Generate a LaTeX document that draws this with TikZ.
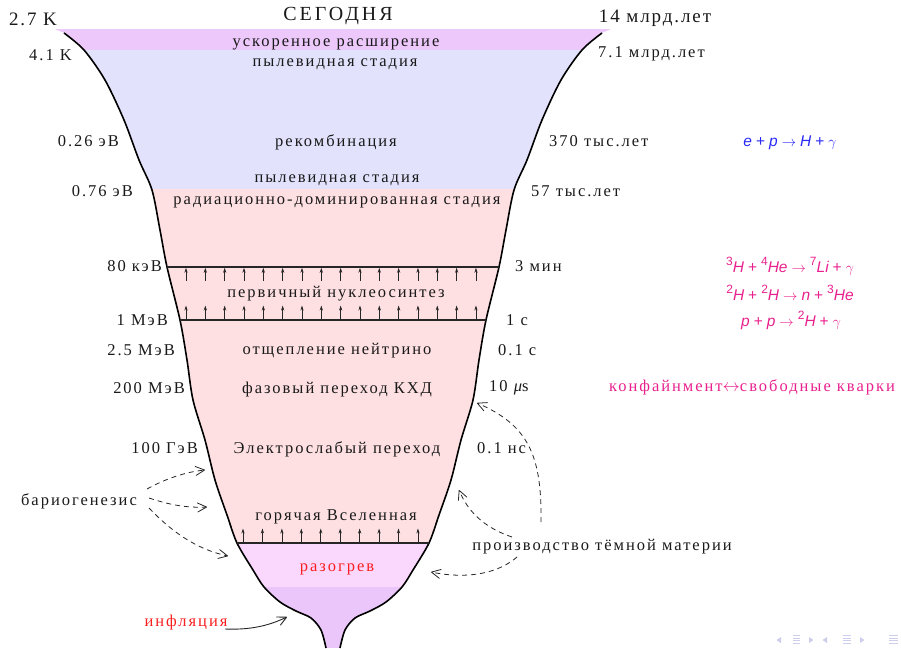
\documentclass[tikz,border=0pt]{standalone}
\usepackage{fontspec}
\setmainfont{Liberation Serif}
\newfontfamily\lblfont[LetterSpace=12]{Liberation Serif}
\newfontfamily\bigfont[LetterSpace=10]{Liberation Serif}
\newfontfamily\todayfont[LetterSpace=15]{Liberation Serif}
\newfontfamily\eqfont{Liberation Sans}
\usetikzlibrary{arrows.meta}

\definecolor{cTop}{RGB}{237,200,251}
\definecolor{cBlue}{RGB}{226,226,253}
\definecolor{cPink}{RGB}{254,224,226}
\definecolor{cReheat}{RGB}{250,216,254}
\definecolor{cBottom}{RGB}{234,198,250}
\definecolor{cBlueTxt}{RGB}{40,40,250}
\definecolor{cMag}{RGB}{232,32,142}
\definecolor{cRed}{RGB}{250,30,30}
\definecolor{navc}{RGB}{205,205,236}

\newcommand\op[1]{\kern4pt{\upshape#1}\kern4pt}
\newcommand\sps[1]{\raisebox{0.45em}{\fontsize{12}{12}\selectfont\upshape #1}}

\tikzset{
  lbl/.style={font=\lblfont\fontsize{16.5}{18}\selectfont, inner sep=0pt, text=black!90},
  biglbl/.style={font=\bigfont\fontsize{19}{21}\selectfont, inner sep=0pt, text=black!90},
  eqlbl/.style={font=\eqfont\itshape\fontsize{15.5}{17}\selectfont, inner sep=0pt},
  outline/.style={line width=1.6pt, black},
  level/.style={line width=1.1pt, black!85},
  uparr/.style={line width=0.7pt, black!85, -{Stealth[length=5pt,width=3.2pt]}},
  dasharr/.style={line width=0.8pt, black!85, dash pattern=on 5pt off 4pt, -{Straight Barb[length=9pt,width=9pt,round]}},
  solarr/.style={line width=0.9pt, black!85, -{Straight Barb[length=9pt,width=9pt,round]}},
}

\begin{document}
\begin{tikzpicture}[x=1pt,y=-1pt]
\useasboundingbox (0,0) rectangle (901,648);

% funnel fill
\begin{scope}
\clip (55,29) -- plot[smooth] coordinates {(64,33) (84,50) (105,80) (124,120) (139,160) (152,190) (160,230) (167,267) (180,320) (187,360) (193,400) (205,440) (215,480) (227,515) (237,543) (253,570) (264,587) (280,602) (296,611) (311,618) (321,630) (326,648)}
  -- plot[smooth] coordinates {(340,648) (345,630) (355,618) (370,611) (386,602) (402,587) (413,570) (429,543) (439,515) (451,480) (461,440) (473,400) (479,360) (486,320) (499,267) (506,230) (514,190) (527,160) (542,120) (561,80) (582,50) (602,33)}
  -- (611,29) -- cycle;
\fill[cTop] (0,0) rectangle (901,50);
\fill[cBlue] (0,50) rectangle (901,189);
\fill[cPink] (0,189) rectangle (901,543);
\fill[cReheat] (0,543) rectangle (901,587);
\fill[cBottom] (0,587) rectangle (901,648);
\end{scope}

% outline
\draw[outline] plot[smooth] coordinates {(64,33) (84,50) (105,80) (124,120) (139,160) (152,190) (160,230) (167,267) (180,320) (187,360) (193,400) (205,440) (215,480) (227,515) (237,543) (253,570) (264,587) (280,602) (296,611) (311,618) (321,630) (326,648)};
\draw[outline] plot[smooth] coordinates {(340,648) (345,630) (355,618) (370,611) (386,602) (402,587) (413,570) (429,543) (439,515) (451,480) (461,440) (473,400) (479,360) (486,320) (499,267) (506,230) (514,190) (527,160) (542,120) (561,80) (582,50) (602,33)};

% level lines
\coordinate (l1a) at (167,267); \coordinate (l1b) at (499,267);
\coordinate (l2a) at (180,320); \coordinate (l2b) at (486,320);
\coordinate (l3a) at (237,543); \coordinate (l3b) at (429,543);
\draw[level] (l1a) -- (l1b);
\draw[level] (l2a) -- (l2b);
\draw[level] (l3a) -- (l3b);
\foreach \i in {0,...,15} {
  \draw[uparr] ({186+19.33*\i},280.5) -- ({186+19.33*\i},267.8);
  \draw[uparr] ({186+19.33*\i},319.5) -- ({186+19.33*\i},305.5);
}
\foreach \i in {0,...,9} {
  \draw[uparr] ({243+19.44*\i},542.5) -- ({243+19.44*\i},528.5);
}

% texts
\node[biglbl, anchor=base] (t27) at (33,25) {2.7 K};
\node[biglbl, font=\todayfont\fontsize{20}{22}\selectfont, anchor=base] (today) at (338,20.5) {СЕГОДНЯ};
\node[biglbl, anchor=base] (t14) at (655,22) {14 млрд.лет};
\node[lbl, anchor=base] (acc) at (336,46) {ускоренное расширение};
\node[lbl, anchor=base east] (t41) at (72,60.5) {4.1 K};
\node[lbl, anchor=base] (dust1) at (335,66) {пылевидная стадия};
\node[lbl, anchor=base west] (t71) at (598,57) {7.1 млрд.лет};
\node[lbl, anchor=base east] (e026) at (119,146.5) {0.26 эВ};
\node[lbl, anchor=base] (rec) at (336,146.5) {рекомбинация};
\node[lbl, anchor=base west] (t370) at (549,146.5) {370 тыс.лет};
\node[eqlbl, anchor=base, text=cBlueTxt] (receq) at (790,146.5) {e\op{+}p\op{$\to$}H\op{+}$\gamma$};
\node[lbl, anchor=base] (dust2) at (337,182.7) {пылевидная стадия};
\node[lbl, anchor=base east] (e076) at (133,196) {0.76 эВ};
\node[lbl, anchor=base] (rad) at (337,204) {радиационно-доминированная стадия};
\node[lbl, anchor=base west] (t57) at (531,196) {57 тыс.лет};
\node[lbl, anchor=base east] (e80) at (162,271) {80 кэВ};
\node[lbl, anchor=base west] (t3) at (515,271) {3 мин};
\node[lbl, anchor=base] (bbn) at (336,297) {первичный нуклеосинтез};
\node[lbl, anchor=base east] (e1) at (168,325) {1 МэВ};
\node[lbl, anchor=base west] (t1) at (506,325) {1 с};
\node[lbl, anchor=base east] (e25) at (175,355) {2.5 МэВ};
\node[lbl, anchor=base] (nu) at (337,354) {отщепление нейтрино};
\node[lbl, anchor=base west] (t01) at (498,355) {0.1 с};
\node[lbl, anchor=base east] (e200) at (185,393) {200 МэВ};
\node[lbl, anchor=base] (qcd) at (337,393) {фазовый переход КХД};
\node[lbl, anchor=base west] (t10) at (489,391.7) {10 {\itshape μ}s};
\node[lbl, anchor=base, text=cMag] (conf) at (752,391.7) {конфайнмент$\leftrightarrow$свободные кварки};
\node[lbl, anchor=base east] (e100) at (198,453) {100 ГэВ};
\node[lbl, anchor=base] (ew) at (337,453) {Электрослабый переход};
\node[lbl, anchor=base west] (t01n) at (477,453) {0.1 нс};
\node[lbl, anchor=base] (bario) at (79,505) {бариогенезис};
\node[lbl, anchor=base] (hot) at (336,520.7) {горячая Вселенная};
\node[lbl, anchor=base, text=cRed] (reh) at (337,571.5) {разогрев};
\node[lbl, anchor=base] (dm) at (602,550.5) {производство тёмной материи};
\node[lbl, anchor=base, text=cRed] (infl) at (186,626.5) {инфляция};

% reactions
\node[eqlbl, anchor=base, text=cMag] (r1) at (790,272.7) {\sps{3}H\op{+}\sps{4}He\op{$\to$}\sps{7}Li\op{+}$\gamma$};
\node[eqlbl, anchor=base, text=cMag] (r2) at (790,300) {\sps{2}H\op{+}\sps{2}H\op{$\to$}n\op{+}\sps{3}He};
\node[eqlbl, anchor=base, text=cMag] (r3) at (791,326.7) {p\op{+}p\op{$\to$}\sps{2}H\op{+}$\gamma$};

% baryogenesis arrows
\coordinate (b1s) at (147,489); \coordinate (b1e) at (205,470);
\coordinate (b2s) at (149,498); \coordinate (b2e) at (207,507);
\coordinate (b3s) at (149,508); \coordinate (b3e) at (228,556);
\draw[dasharr] (b1s) .. controls (165,479) and (185,472) .. (b1e);
\draw[dasharr] (b2s) .. controls (170,505) and (187,508) .. (b2e);
\draw[dasharr] (b3s) .. controls (170,530) and (195,549) .. (b3e);

% dark matter arrows
\coordinate (d1s) at (541,522); \coordinate (d1e) at (477,403);
\coordinate (d2s) at (512,537); \coordinate (d2e) at (459,490);
\coordinate (d3s) at (517,557); \coordinate (d3e) at (431,572);
\draw[dasharr] (d1s) .. controls (542,455) and (528,425) .. (d1e);
\draw[dasharr] (d2s) .. controls (485,528) and (468,512) .. (d2e);
\draw[dasharr] (d3s) .. controls (500,572) and (470,580) .. (d3e);

% inflation arrow
\coordinate (i1s) at (225,629); \coordinate (i1e) at (287,617);
\draw[solarr] (i1s) .. controls (250,630) and (268,626) .. (i1e);

% navigation symbols
\fill[navc] (781,637) -- (781,643) -- (776.5,640) -- cycle;
\foreach \yy in {635.5,638,640.5,643} \draw[navc, line width=1pt] (793,\yy) -- (800,\yy);
\fill[navc] (809,637) -- (809,643) -- (813.5,640) -- cycle;
\fill[navc] (827,637) -- (827,643) -- (822.5,640) -- cycle;
\foreach \yy in {635.5,638,640.5,643} \draw[navc, line width=1pt] (843,\yy) -- (851,\yy);
\fill[navc] (860,637) -- (860,643) -- (864.5,640) -- cycle;
\foreach \yy in {635.5,638,640.5,643} \draw[navc, line width=1pt] (889,\yy) -- (898,\yy);
\end{tikzpicture}
\end{document}
